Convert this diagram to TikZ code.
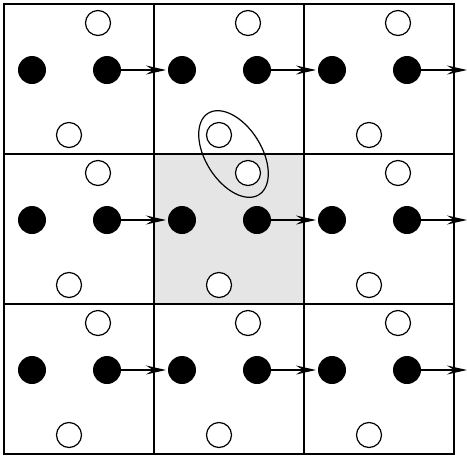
\documentclass[tikz,border=0pt]{standalone}
\usetikzlibrary{arrows.meta,calc}
\begin{document}
\begin{tikzpicture}[x=1pt,y=-1pt,
  cellbox/.style={draw=black,line width=1.6pt},
  blackdot/.style={circle,fill=black,minimum size=28pt,inner sep=0pt,outer sep=0pt},
  whitedot/.style={circle,draw=black,fill=white,line width=1.2pt,minimum size=25pt,inner sep=0pt},
  hop/.style={line width=1.3pt,-{Stealth[length=20pt,width=9pt,inset=7pt]},shorten >=2pt}]
\useasboundingbox (0,0) rectangle (467,459);
\fill[black!10] (154,154) rectangle (304,304);
\foreach \i in {0,1,2}{
  \foreach \j in {0,1,2}{
    \pgfmathsetmacro{\xo}{4+150*\i}
    \pgfmathsetmacro{\yo}{4+150*\j}
    \draw[cellbox] (\xo,\yo) rectangle ++(150,150);
    \node[blackdot] (a\j\i) at (\xo+28,\yo+66) {};
    \node[blackdot] (b\j\i) at (\xo+103,\yo+66) {};
    \node[whitedot] (t\j\i) at (\xo+94,\yo+19) {};
    \node[whitedot] (u\j\i) at (\xo+65,\yo+131) {};
  }
}
\foreach \j in {0,1,2}{
  \draw[hop] (b\j0) -- (a\j1);
  \draw[hop] (b\j1) -- (a\j2);
  \coordinate (e\j) at (467,70+150*\j);
  \draw[hop,shorten >=0pt] (b\j2) -- (e\j);
}
\draw[line width=1.2pt] ($(u01)!0.5!(t11)$) ellipse [x radius=48pt,y radius=28pt,rotate=-58];
\end{tikzpicture}
\end{document}
